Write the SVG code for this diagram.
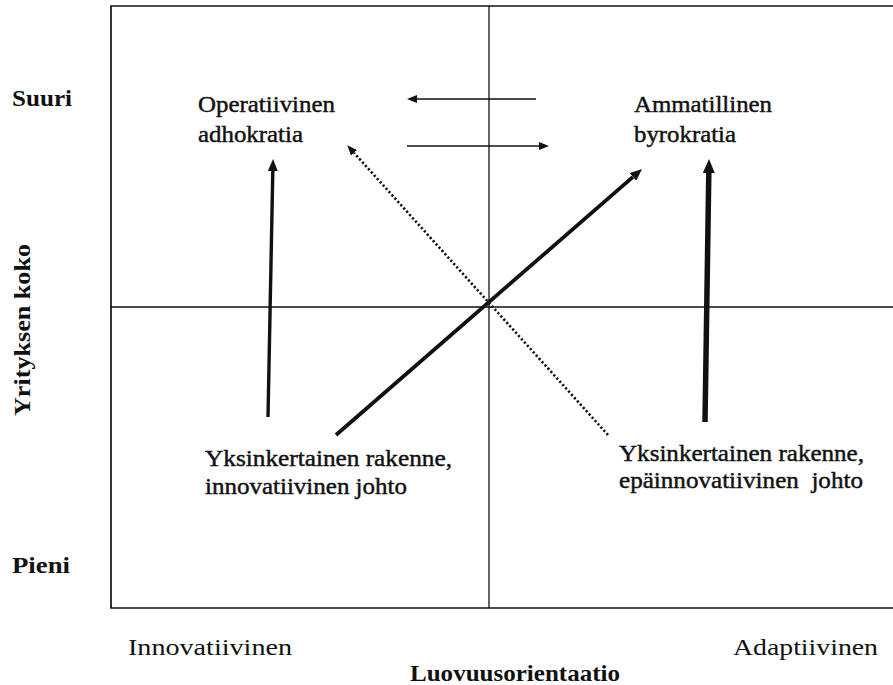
<svg xmlns="http://www.w3.org/2000/svg" width="893" height="685" viewBox="0 0 893 685">
  <style>
    .frame { fill: none; stroke: #111; stroke-width: 1.7; }
    .axis { stroke: #111; stroke-width: 1.3; }
    .lbl { font-family: "Liberation Serif", "Times New Roman", serif; font-size: 24px; fill: #111; }
    .heavytext { stroke: #111; stroke-width: 0.45; }
    .bold { font-weight: bold; }
    .conn { fill: none; stroke: #111; stroke-linecap: butt; }
    .thin { stroke-width: 1.7; }
    .mid { stroke-width: 3.4; }
    .diag { stroke-width: 3.8; }
    .heavy { stroke-width: 5.5; }
    .dots { stroke-width: 2.6; stroke-dasharray: 2.2 2.2; }
  </style>
  <defs>
    <marker id="headSmall" markerUnits="userSpaceOnUse" markerWidth="10" markerHeight="8" refX="0" refY="4" orient="auto">
      <path d="M0,0 L10,4 L0,8 z" fill="#111"/>
    </marker>
    <marker id="headMid" markerUnits="userSpaceOnUse" markerWidth="12" markerHeight="10" refX="0" refY="5" orient="auto">
      <path d="M0,0 L12,5 L0,10 z" fill="#111"/>
    </marker>
    <marker id="headLarge" markerUnits="userSpaceOnUse" markerWidth="14" markerHeight="12" refX="0" refY="6" orient="auto">
      <path d="M0,0 L14,6 L0,12 z" fill="#111"/>
    </marker>
  </defs>

  <rect width="893" height="685" fill="#fff"/>

  <!-- quadrant frame, open on the right -->
  <g id="frame">
    <path class="frame" d="M893,6 H111 V608 H893"/>
    <line class="axis" x1="489" y1="6" x2="489" y2="608"/>
    <line class="axis" x1="111" y1="307" x2="893" y2="307"/>
  </g>

  <!-- axis labels -->
  <g id="axis-labels">
    <text class="lbl bold" x="12" y="106" textLength="60" lengthAdjust="spacingAndGlyphs">Suuri</text>
    <text class="lbl bold" x="12" y="573" textLength="58" lengthAdjust="spacingAndGlyphs">Pieni</text>
    <text class="lbl bold" transform="translate(30,330) rotate(-90)" text-anchor="middle" textLength="172" lengthAdjust="spacingAndGlyphs">Yrityksen koko</text>
    <text class="lbl" x="128" y="655" textLength="164" lengthAdjust="spacingAndGlyphs">Innovatiivinen</text>
    <text class="lbl" x="733" y="655" textLength="145" lengthAdjust="spacingAndGlyphs">Adaptiivinen</text>
    <text class="lbl bold" x="410" y="681" textLength="210" lengthAdjust="spacingAndGlyphs">Luovuusorientaatio</text>
  </g>

  <g id="operatiivinen-adhokratia" class="heavytext">
    <text class="lbl" x="198" y="112" textLength="137" lengthAdjust="spacingAndGlyphs">Operatiivinen</text>
    <text class="lbl" x="198" y="142" textLength="105" lengthAdjust="spacingAndGlyphs">adhokratia</text>
  </g>

  <g id="ammatillinen-byrokratia" class="heavytext">
    <text class="lbl" x="634" y="112" textLength="138" lengthAdjust="spacingAndGlyphs">Ammatillinen</text>
    <text class="lbl" x="634" y="142" textLength="102" lengthAdjust="spacingAndGlyphs">byrokratia</text>
  </g>

  <g id="yksinkertainen-innovatiivinen" class="heavytext">
    <text class="lbl" x="205" y="466" textLength="247" lengthAdjust="spacingAndGlyphs">Yksinkertainen rakenne,</text>
    <text class="lbl" x="205" y="494" textLength="202" lengthAdjust="spacingAndGlyphs">innovatiivinen johto</text>
  </g>

  <g id="yksinkertainen-epainnovatiivinen" class="heavytext">
    <text class="lbl" x="619" y="461" textLength="245" lengthAdjust="spacingAndGlyphs">Yksinkertainen rakenne,</text>
    <text class="lbl" x="619" y="488" textLength="244" lengthAdjust="spacingAndGlyphs" xml:space="preserve">epäinnovatiivinen  johto</text>
  </g>

  <!-- connectors -->
  <g id="connectors">
    <line class="conn thin" x1="536" y1="99" x2="417" y2="99" marker-end="url(#headSmall)"/>
    <line class="conn thin" x1="407" y1="146" x2="539" y2="146" marker-end="url(#headSmall)"/>
    <line class="conn dots" x1="608" y1="435" x2="354" y2="152.8" marker-end="url(#headSmall)"/>
    <line class="conn mid" x1="268" y1="417" x2="272.8" y2="171" marker-end="url(#headMid)"/>
    <line class="conn diag" x1="336" y1="435" x2="633" y2="176.9" marker-end="url(#headMid)"/>
    <line class="conn heavy" x1="705" y1="422" x2="708.8" y2="173" marker-end="url(#headLarge)"/>
  </g>
</svg>
